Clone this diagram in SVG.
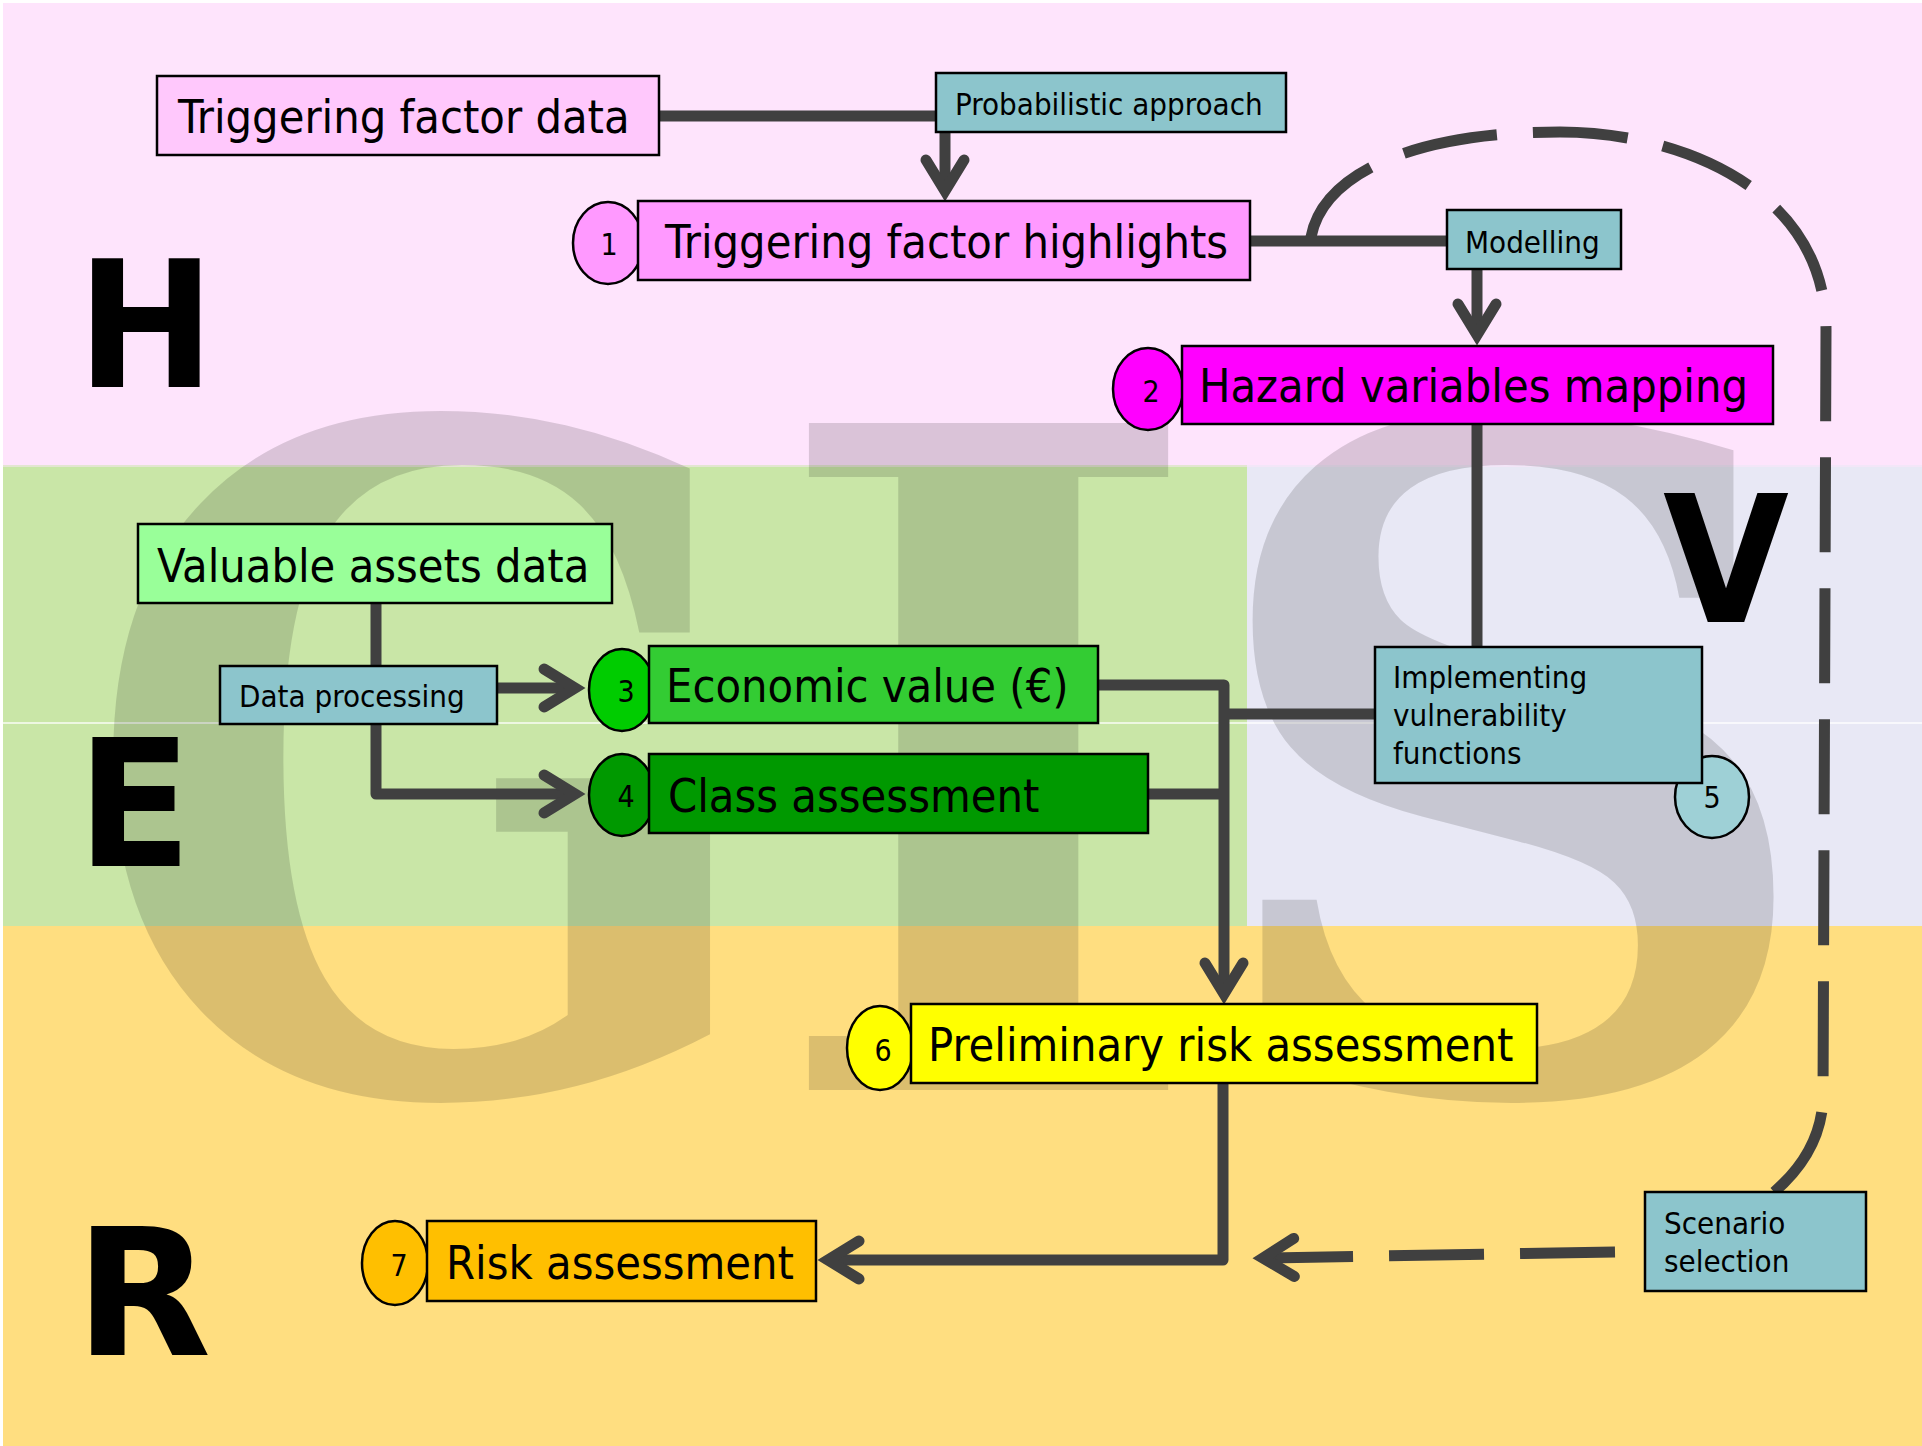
<svg xmlns="http://www.w3.org/2000/svg" width="1922" height="1446" viewBox="0 0 1922 1446">
<style>
.lbl{font-family:"DejaVu Sans Condensed","DejaVu Sans",sans-serif;font-stretch:condensed;fill:#000}
.big{font-size:46.5px}
.sm{font-size:31px}
.num{font-size:30px;text-anchor:middle}
.box{stroke:#000;stroke-width:2.5}
.teal{fill:#8CC5CC}
.con{fill:none;stroke:#404040;stroke-width:11;stroke-linejoin:round;stroke-linecap:butt}
.dash{stroke-dasharray:95 36}
.band{font-family:"DejaVu Sans","Liberation Sans",sans-serif;font-weight:bold;font-size:177px;fill:#000}
.gis{font-family:"DejaVu Serif","Liberation Serif",serif;font-weight:bold;font-size:915px;fill:#000;fill-opacity:0.14}
</style>
<defs>
<marker id="ah" markerUnits="userSpaceOnUse" viewBox="-50 -30 70 60" refX="0" refY="0" markerWidth="70" markerHeight="60" orient="auto" overflow="visible">
<path d="M-31,-19 L0,0 L-31,19" fill="none" stroke="#404040" stroke-width="11" stroke-linecap="round" stroke-linejoin="miter"/>
</marker>
</defs>
<rect width="1922" height="1446" fill="#FFFFFF"/>
<g id="bands">
<rect x="3" y="3" width="1919" height="462" fill="#FEE4FC"/>
<rect x="3" y="465" width="1244" height="461" fill="#C9E6A7"/>
<rect x="1247" y="465" width="675" height="461" fill="#E8E8F5"/>
<rect x="3" y="926" width="1919" height="520" fill="#FFDE80"/>
<rect x="3" y="463" width="1919" height="4" fill="#FEE4FC" fill-opacity="0.5"/>
<line x1="3" y1="723" x2="1922" y2="723" stroke="#FFFFFF" stroke-width="1.5" stroke-opacity="0.9"/>
</g>
<g id="watermark">
<text class="gis" transform="translate(79,1090) scale(0.89,1)">G</text>
<text class="gis" transform="translate(764,1090) scale(1.047,1)">I</text>
<text class="gis" transform="translate(1195,1090) scale(0.955,1)">S</text>
</g>
<g id="band-letters">
<text class="band" transform="translate(77,387) scale(0.93,1)">H</text>
<text class="band" transform="translate(77,866) scale(0.95,1)">E</text>
<text class="band" transform="translate(75,1355) scale(1,1)">R</text>
<text class="band" transform="translate(1663,622) scale(0.92,1)">V</text>
</g>
<g id="connectors">
<path class="con" d="M659,116 H945 V191" marker-end="url(#ah)"/>
<path class="con" d="M1250,241 H1477 V335" marker-end="url(#ah)"/>
<path class="con" d="M1477,424 V647"/>
<path class="con" d="M1375,714 H1224"/>
<path class="con" d="M1098,685 H1224 V994" marker-end="url(#ah)"/>
<path class="con" d="M1148,794 H1224"/>
<path class="con" d="M376,603 V794 H575" marker-end="url(#ah)"/>
<path class="con" d="M497,688 H575" marker-end="url(#ah)"/>
<path class="con" d="M1223,1083 V1260 H828" marker-end="url(#ah)"/>
<path class="con dash" d="M1311,237 C1322,180 1400,132 1560,132 C1680,132 1826,190 1826,330 L1823,1100 C1821,1140 1800,1170 1773,1193"/>
<path class="con dash" d="M1615,1252 L1263,1258" marker-end="url(#ah)"/>
</g>
<g id="n-trig-data">
<rect class="box" x="157" y="76" width="502" height="79" fill="#FFC8FC"/>
<text class="lbl big" x="178" y="133">Triggering factor data</text>
</g>
<g id="n-prob">
<rect class="box teal" x="936" y="73" width="350" height="59"/>
<text class="lbl sm" x="955" y="115">Probabilistic approach</text>
</g>
<g id="n-trig-high">
<ellipse class="box" cx="608" cy="243" rx="35" ry="41" fill="#FF99FF"/>
<rect class="box" x="638" y="201" width="612" height="79" fill="#FF99FF"/>
<text class="lbl num" x="609" y="255">1</text>
<text class="lbl big" x="665" y="258">Triggering factor highlights</text>
</g>
<g id="n-modelling">
<rect class="box teal" x="1447" y="210" width="174" height="59"/>
<text class="lbl sm" x="1465" y="253">Modelling</text>
</g>
<g id="n-hazard">
<ellipse class="box" cx="1148" cy="389" rx="35" ry="41" fill="#FF00FF"/>
<rect class="box" x="1182" y="346" width="591" height="78" fill="#FF00FF"/>
<text class="lbl num" x="1151" y="402">2</text>
<text class="lbl big" x="1199" y="402">Hazard variables mapping</text>
</g>
<g id="n-valuable">
<rect class="box" x="138" y="524" width="474" height="79" fill="#99FF99"/>
<text class="lbl big" x="157" y="582">Valuable assets data</text>
</g>
<g id="n-dataproc">
<rect class="box teal" x="220" y="666" width="277" height="58"/>
<text class="lbl sm" x="239" y="707">Data processing</text>
</g>
<g id="n-economic">
<ellipse class="box" cx="622" cy="690" rx="33" ry="41" fill="#00CC00"/>
<rect class="box" x="649" y="646" width="449" height="77" fill="#33CC33"/>
<text class="lbl num" x="626" y="702">3</text>
<text class="lbl big" x="666" y="702">Economic value (€)</text>
</g>
<g id="n-class">
<ellipse class="box" cx="622" cy="795" rx="33" ry="41" fill="#009900"/>
<rect class="box" x="649" y="754" width="499" height="79" fill="#009900"/>
<text class="lbl num" x="626" y="807">4</text>
<text class="lbl big" x="668" y="812">Class assessment</text>
</g>
<g id="n-vuln">
<ellipse class="box" cx="1712" cy="797" rx="37" ry="41" fill="#9ED0D6"/>
<rect class="box teal" x="1375" y="647" width="327" height="136"/>
<text class="lbl num" x="1712" y="808">5</text>
<text class="lbl sm" x="1393" y="688">Implementing</text>
<text class="lbl sm" x="1393" y="726">vulnerability</text>
<text class="lbl sm" x="1393" y="764">functions</text>
</g>
<g id="n-prelim">
<ellipse class="box" cx="880" cy="1048" rx="33" ry="42" fill="#FFFF00"/>
<rect class="box" x="911" y="1004" width="626" height="79" fill="#FFFF00"/>
<text class="lbl num" x="883" y="1061">6</text>
<text class="lbl big" x="928" y="1061">Preliminary risk assessment</text>
</g>
<g id="n-risk">
<ellipse class="box" cx="395" cy="1263" rx="33" ry="42" fill="#FFBF00"/>
<rect class="box" x="427" y="1221" width="389" height="80" fill="#FFBF00"/>
<text class="lbl num" x="399" y="1276">7</text>
<text class="lbl big" x="446" y="1279">Risk assessment</text>
</g>
<g id="n-scenario">
<rect class="box teal" x="1645" y="1192" width="221" height="99"/>
<text class="lbl sm" x="1664" y="1234">Scenario</text>
<text class="lbl sm" x="1664" y="1272">selection</text>
</g>
</svg>
